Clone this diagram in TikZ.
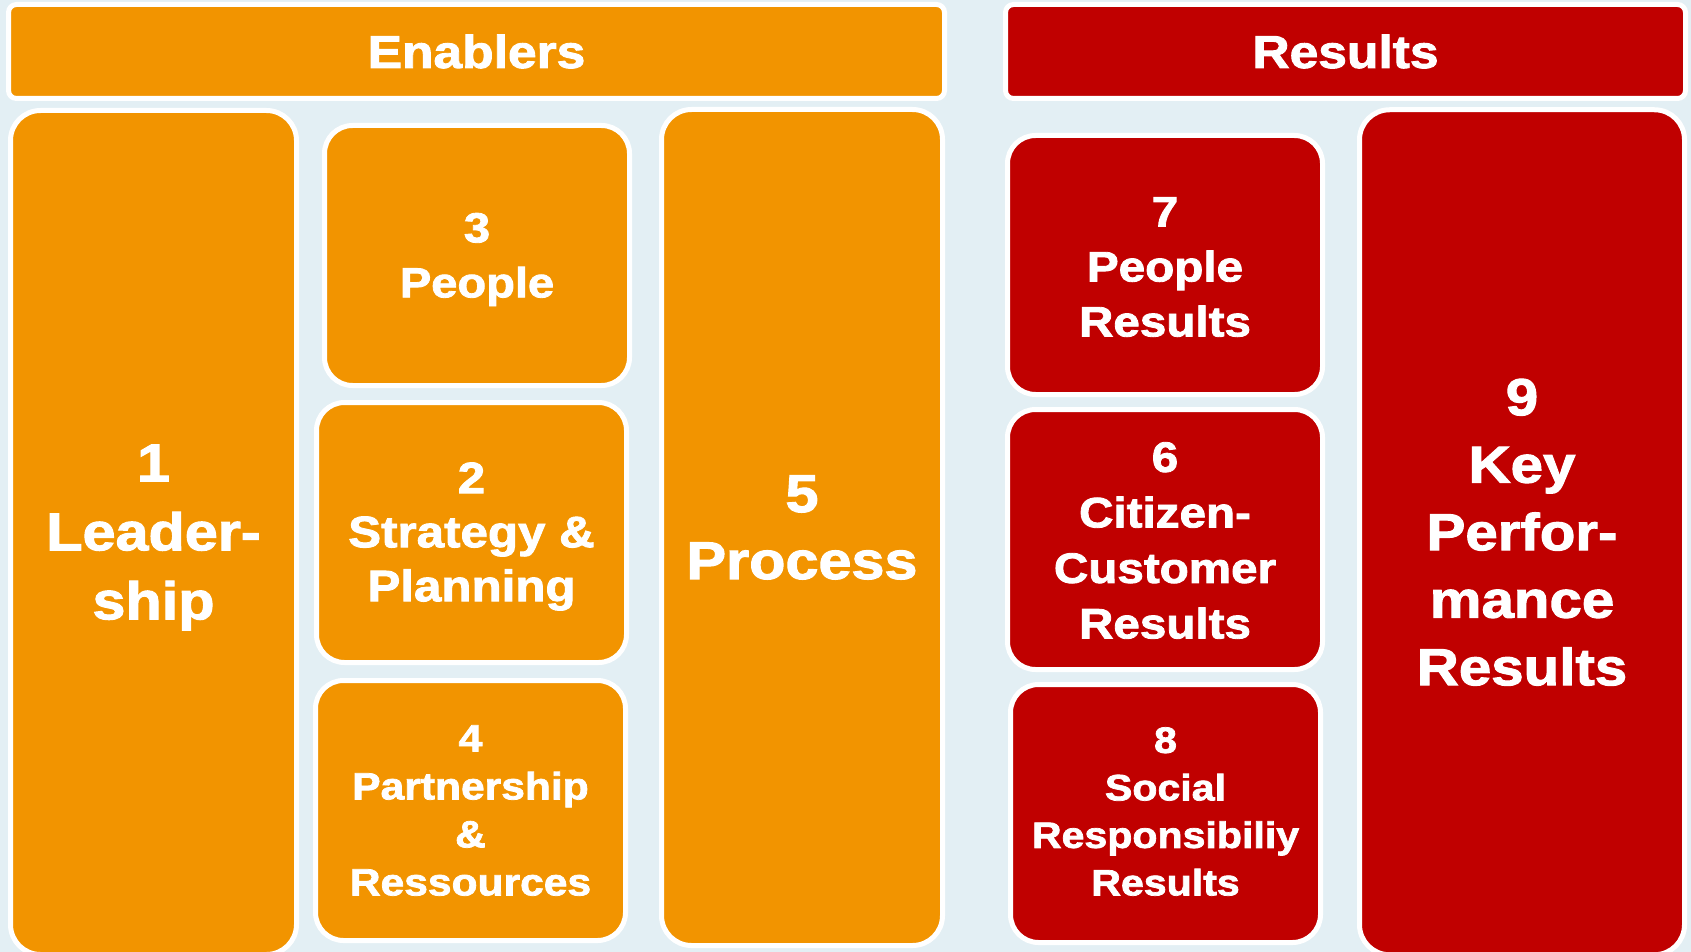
\documentclass[tikz,border=0pt]{standalone}
\usepackage{fontspec}
\newfontfamily\boxfont{Liberation Sans Bold}[FakeStretch=1.12,FakeBold=2]
\definecolor{bgblue}{HTML}{E3EFF4}
\definecolor{enorange}{HTML}{F29400}
\definecolor{resred}{HTML}{C00000}
\tikzset{
  panel/.style={draw=white, line width=5pt, inner sep=0pt, outer sep=0pt, rounded corners=#1},
  panel/.default=28pt,
  enab/.style={panel=#1, fill=enorange},
  enab/.default=28pt,
  resu/.style={panel=#1, fill=resred},
  resu/.default=28pt,
  label/.style 2 args={text=white, align=center, inner sep=0pt,
    font=\boxfont\fontsize{#1}{#2}\selectfont},
}
\begin{document}
\begin{tikzpicture}[x=1pt,y=-1pt]
\fill[bgblue] (0,0) rectangle (1691,952);
\useasboundingbox (0,0) rectangle (1691,952);
% headers
\node[enab=8pt, minimum width=936pt, minimum height=94pt] (enablers) at (476.5,51.5) {};
\node[resu=8pt, minimum width=680pt, minimum height=94pt] (results) at (1345.5,51.5) {};
% enablers
\node[enab=30pt, minimum width=286pt, minimum height=844pt] (lead) at (153.5,532.5) {};
\node[enab, minimum width=305pt, minimum height=260pt] (people) at (477,255.5) {};
\node[enab, minimum width=310pt, minimum height=260pt] (strat) at (471.5,532.5) {};
\node[enab, minimum width=310pt, minimum height=260pt] (partner) at (470.5,810.5) {};
\node[enab=30pt, minimum width=281pt, minimum height=836pt] (process) at (802,527.5) {};
% results
\node[resu, minimum width=315pt, minimum height=259pt] (peopleres) at (1165,265) {};
\node[resu, minimum width=315pt, minimum height=260pt] (custres) at (1165,539.5) {};
\node[resu, minimum width=310pt, minimum height=258pt] (socres) at (1165.5,813.5) {};
\node[resu=30pt, minimum width=325pt, minimum height=845pt] (keyres) at (1522,532.25) {};
% texts
\node[label={46}{55}] (enablersT) at (enablers.center) {Enablers};
\node[label={46}{55}] (resultsT) at (results.center) {Results};
\node[label={53}{69}] (leadT) at ([yshift=-5pt]lead.center) {1\\Leader-\\ship};
\node[label={42}{55}] (peopleT) at ([yshift=-4pt]people.center) {3\\People};
\node[label={44}{54}] (stratT) at ([yshift=-4pt]strat.center) {2\\Strategy \&\\Planning};
\node[label={38}{48}] (partnerT) at (partner.center) {4\\Partnership\\\&\\Ressources};
\node[label={53}{67}] (processT) at (process.center) {5\\Process};
\node[label={42.5}{55}] (peopleresT) at ([yshift=-2pt]peopleres.center) {7\\People\\Results};
\node[label={42.5}{55.5}] (custresT) at ([yshift=-1pt]custres.center) {6\\Citizen-\\Customer\\Results};
\node[label={36.7}{47.5}] (socresT) at ([yshift=2pt]socres.center) {8\\Social\\Responsibiliy\\Results};
\node[label={52}{67.5}] (keyresT) at (keyres.center) {9\\Key\\Perfor-\\mance\\Results};
\end{tikzpicture}
\end{document}
